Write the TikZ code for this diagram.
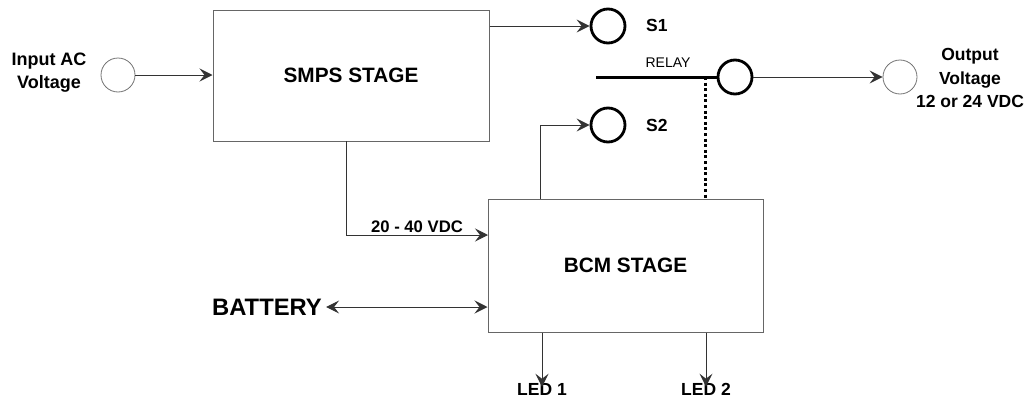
\documentclass[tikz,border=0pt]{standalone}
\usepackage{fontspec}
\setmainfont{Liberation Sans}
\usetikzlibrary{arrows.meta,positioning}

\begin{document}
\begin{tikzpicture}[x=1pt,y=-1pt,>={Stealth[length=13pt,width=13pt,inset=5pt]},
  stagebox/.style={draw=black!60,line width=1pt,rectangle,font=\bfseries\fontsize{20.8}{24}\selectfont},
  port/.style={draw=black!55,line width=0.8pt,circle,minimum size=34pt,inner sep=0pt},
  switch/.style={draw=black,line width=2.8pt,circle,minimum size=34pt,inner sep=0pt},
  lbl/.style={font=\bfseries\fontsize{17.5}{23.5}\selectfont,align=center,inner sep=2pt},
  wire/.style={draw=black!80,line width=1pt}]
  \useasboundingbox (0,0) rectangle (1029,399);
  \node[stagebox,minimum width=276pt,minimum height=131pt] (smps) at (351,75.5) {SMPS STAGE};
  \node[stagebox,minimum width=275pt,minimum height=133pt] (bcm) at (625.5,265.5) {BCM STAGE};
  \node[port] (inac) at (118,75) {};
  \node[lbl,font=\bfseries\fontsize{18}{23}\selectfont] (inlbl) at (49,73) {Input AC\\Voltage};
  \node[switch] (s1) at (608,26) {};
  \node[lbl,anchor=west] (s1lbl) at (644,25) {S1};
  \node[switch] (s2) at (608,125) {};
  \node[lbl,anchor=west] (s2lbl) at (644,125) {S2};
  \node[switch] (relay) at (735,77) {};
  \node[font=\fontsize{14}{16}\selectfont] (relaylbl) at (668,63) {RELAY};
  \node[port] (out) at (900,77) {};
  \node[lbl] (outlbl) at (970,78) {Output\\Voltage\\12 or 24 VDC};
  \node[font=\bfseries\fontsize{23.8}{26}\selectfont,inner sep=4pt] (batt) at (267,307) {BATTERY};
  \node[lbl] (led1) at (542,389) {LED 1};
  \node[lbl] (led2) at (706,389) {LED 2};
  \coordinate (dcout) at (346,141);
  \coordinate (dcin) at (488,235);
  \coordinate (s2src) at (540,199);
  \coordinate (relaystart) at (596,77);
  \coordinate (relaytap) at (705,77);
  \draw[wire,->] (inac) -- (smps.west |- inac);
  \draw[wire,->] (smps.east |- s1) -- (s1);
  \draw[wire,->] (s2src) |- (s2);
  \draw[black,line width=3pt] (relaystart) -- (relay.west);
  \draw[black,line width=3pt,dash pattern=on 3pt off 2.6pt] (relaytap) -- (relaytap |- bcm.north);
  \draw[wire,->] (relay) -- (out);
  \draw[wire,->] (dcout) |- node[pos=0.75,above,lbl,font=\bfseries\fontsize{16.7}{20}\selectfont] {20 - 40 VDC} (dcin);
  \draw[wire,<->] (batt.east) -- (bcm.west |- batt);
  \draw[wire,->] (bcm.south -| led1) -- ([yshift=-6pt]led1.north);
  \draw[wire,->] (bcm.south -| led2) -- ([yshift=-6pt]led2.north);
\end{tikzpicture}
\end{document}
